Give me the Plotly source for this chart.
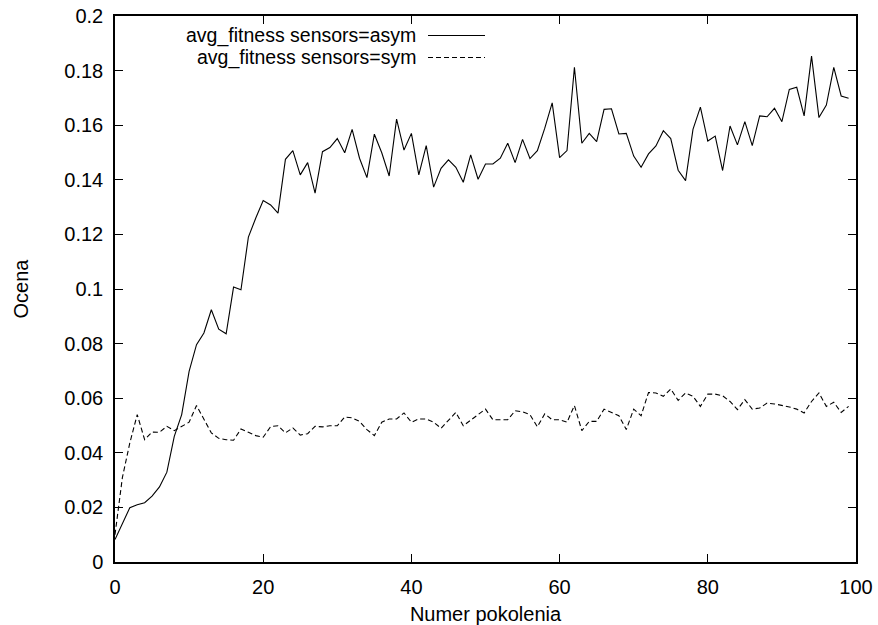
import plotly.graph_objects as go

generations = list(range(100))

asym = [0.0082, 0.0140, 0.0199, 0.0210, 0.0217, 0.0241, 0.0275, 0.0329, 0.0460, 0.0540,
        0.0698, 0.0796, 0.0839, 0.0924, 0.0853, 0.0836, 0.1007, 0.0997, 0.1190, 0.1260,
        0.1324, 0.1308, 0.1278, 0.1475, 0.1507, 0.1418, 0.1463, 0.1351, 0.1503, 0.1518,
        0.1551, 0.1499, 0.1585, 0.1479, 0.1408, 0.1567, 0.1499, 0.1414, 0.1622, 0.1509,
        0.1570, 0.1418, 0.1525, 0.1373, 0.1442, 0.1473, 0.1446, 0.1391, 0.1491, 0.1402,
        0.1458, 0.1458, 0.1479, 0.1534, 0.1463, 0.1548, 0.1478, 0.1507, 0.1589, 0.1682,
        0.1481, 0.1507, 0.1812, 0.1534, 0.1570, 0.1540, 0.1658, 0.1660, 0.1568, 0.1570,
        0.1487, 0.1446, 0.1495, 0.1524, 0.1580, 0.1551, 0.1435, 0.1397, 0.1585, 0.1666,
        0.1542, 0.1560, 0.1434, 0.1597, 0.1528, 0.1613, 0.1525, 0.1634, 0.1631, 0.1662,
        0.1613, 0.1731, 0.1739, 0.1634, 0.1853, 0.1628, 0.1674, 0.1812, 0.1707, 0.1699]

sym = [0.0100, 0.0310, 0.0436, 0.0540, 0.0448, 0.0476, 0.0475, 0.0497, 0.0481, 0.0497,
       0.0512, 0.0573, 0.0521, 0.0473, 0.0453, 0.0448, 0.0446, 0.0487, 0.0475, 0.0463,
       0.0457, 0.0496, 0.0499, 0.0473, 0.0491, 0.0465, 0.0470, 0.0497, 0.0495, 0.0499,
       0.0499, 0.0531, 0.0528, 0.0515, 0.0485, 0.0463, 0.0512, 0.0524, 0.0524, 0.0546,
       0.0512, 0.0524, 0.0524, 0.0512, 0.0490, 0.0521, 0.0548, 0.0499, 0.0521, 0.0540,
       0.0560, 0.0521, 0.0521, 0.0521, 0.0554, 0.0550, 0.0540, 0.0495, 0.0543, 0.0521,
       0.0521, 0.0512, 0.0573, 0.0481, 0.0515, 0.0515, 0.0560, 0.0548, 0.0536, 0.0485,
       0.0560, 0.0536, 0.0621, 0.0619, 0.0607, 0.0634, 0.0592, 0.0619, 0.0607, 0.0570,
       0.0615, 0.0615, 0.0609, 0.0588, 0.0558, 0.0595, 0.0560, 0.0564, 0.0582, 0.0579,
       0.0574, 0.0568, 0.0560, 0.0546, 0.0588, 0.0619, 0.0570, 0.0585, 0.0548, 0.0570]

series_names = ["avg_fitness sensors=asym", "avg_fitness sensors=sym"]
x_ticks = [0, 20, 40, 60, 80, 100]
y_ticks = [0, 0.02, 0.04, 0.06, 0.08, 0.1, 0.12, 0.14, 0.16, 0.18, 0.2]
y_tick_labels = ["0", "0.02", "0.04", "0.06", "0.08", "0.1", "0.12", "0.14", "0.16", "0.18", "0.2"]

FONT = "Liberation Sans, Arial, sans-serif"
FS = 20

fig = go.Figure()
fig.add_trace(go.Scatter(x=generations, y=asym, mode="lines", name=series_names[0],
                         line=dict(color="black", width=1.1), showlegend=False))
fig.add_trace(go.Scatter(x=generations, y=sym, mode="lines", name=series_names[1],
                         line=dict(color="black", width=1.1, dash="5px,3px"), showlegend=False))

# gnuplot-style key: right-aligned text with line sample on the right
key_rows = [(series_names[0], "solid", 35.5), (series_names[1], "5px,3px", 57.5)]
plot_top, plot_h = 16, 546
plot_left, plot_w = 115, 741
for name, dash, ypx in key_rows:
    yp = 1 - (ypx - plot_top) / plot_h
    fig.add_annotation(x=(417 - plot_left) / plot_w, y=yp, xref="paper", yref="paper",
                       text=name, showarrow=False, xanchor="right", yanchor="middle",
                       borderpad=0, font=dict(family=FONT, size=19.5, color="black"))
    fig.add_shape(type="line", xref="paper", yref="paper",
                  x0=(428 - plot_left) / plot_w, x1=(485 - plot_left) / plot_w, y0=yp, y1=yp,
                  line=dict(color="black", width=1.1, dash=dash))

axis_common = dict(showline=True, linecolor="black", linewidth=1.5, mirror="ticks",
                   ticks="inside", ticklen=8, tickcolor="black", tickwidth=1.2,
                   showgrid=False, zeroline=False, automargin=False,
                   tickfont=dict(family=FONT, size=FS, color="black"))

fig.update_xaxes(range=[0, 100], tickvals=x_ticks, ticktext=[str(v) for v in x_ticks],
                 title=dict(text="Numer pokolenia", font=dict(family=FONT, size=FS, color="black"),
                            standoff=12),
                 ticklabelstandoff=6, **axis_common)
fig.update_yaxes(range=[0, 0.2], tickvals=y_ticks, ticktext=y_tick_labels,
                 title=dict(text="Ocena", font=dict(family=FONT, size=FS, color="black"),
                            standoff=30),
                 ticklabelstandoff=6, **axis_common)

fig.update_layout(width=878, height=625, plot_bgcolor="white", paper_bgcolor="white",
                  margin=dict(l=115, r=22, t=16, b=63), showlegend=False,
                  font=dict(family=FONT, size=FS, color="black"))

fig.write_html("out.html")
